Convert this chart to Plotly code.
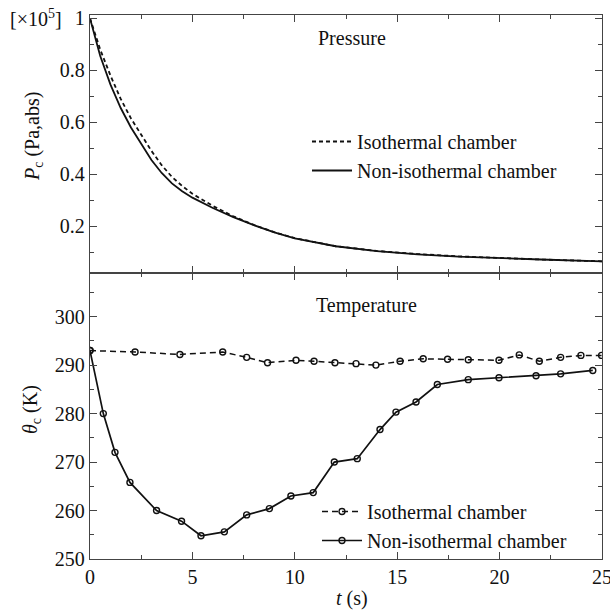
import plotly.graph_objects as go

# Pressure panel (x1e5 Pa, abs)
t_p = [0, 0.5, 1, 1.5, 2, 2.5, 3, 3.5, 4, 4.5, 5, 6, 7, 8, 9, 10, 12, 14, 16, 18, 20, 22, 25]
p_iso = [1.0, 0.88, 0.78, 0.69, 0.615, 0.55, 0.49, 0.435, 0.39, 0.355, 0.325, 0.278, 0.238,
         0.205, 0.177, 0.154, 0.123, 0.105, 0.093, 0.084, 0.077, 0.072, 0.065]
p_noniso = [1.0, 0.855, 0.745, 0.655, 0.58, 0.515, 0.455, 0.405, 0.365, 0.335, 0.31, 0.27,
            0.235, 0.204, 0.176, 0.153, 0.123, 0.104, 0.092, 0.083, 0.077, 0.072, 0.065]

# Temperature panel (K)
t_iso = [0, 2.2, 4.39, 6.48, 7.65, 8.67, 10.06, 10.94, 11.96, 12.99, 13.96, 15.14, 16.27,
         17.46, 18.47, 19.97, 20.96, 21.94, 22.98, 23.97, 24.98]
temp_iso = [293, 292.7, 292.2, 292.7, 291.6, 290.5, 291, 290.8, 290.5, 290.3, 290, 290.8,
            291.3, 291.2, 291.1, 291, 292.1, 290.8, 291.6, 292, 292]
t_non = [0, 0.65, 1.22, 1.95, 3.25, 4.47, 5.42, 6.56, 7.65, 8.76, 9.81, 10.9, 11.93, 13.05,
         14.16, 14.94, 15.92, 16.96, 18.47, 19.97, 21.78, 22.98, 24.55]
temp_non = [293, 280, 272, 265.8, 260, 257.8, 254.8, 255.6, 259.1, 260.4, 263, 263.7, 270,
            270.7, 276.7, 280.3, 282.4, 286, 287, 287.4, 287.8, 288.2, 288.9]

FONT = "Liberation Serif, Times New Roman, serif"
INK = "#111111"
AX = "#444444"

fig = go.Figure()

fig.add_trace(go.Scatter(x=t_p, y=p_iso, mode="lines", name="Isothermal chamber",
                         line=dict(color=INK, width=1.8, dash="4px,3px"),
                         xaxis="x2", yaxis="y2", legend="legend"))
fig.add_trace(go.Scatter(x=t_p, y=p_noniso, mode="lines", name="Non-isothermal chamber",
                         line=dict(color=INK, width=1.8),
                         xaxis="x2", yaxis="y2", legend="legend"))

marker = dict(symbol="circle-open", size=6, color=INK, line=dict(width=1.4, color=INK))
fig.add_trace(go.Scatter(x=t_iso, y=temp_iso, mode="lines+markers", name="Isothermal chamber",
                         line=dict(color=INK, width=1.5, dash="6px,4px"), marker=marker,
                         xaxis="x", yaxis="y", legend="legend2"))
fig.add_trace(go.Scatter(x=t_non, y=temp_non, mode="lines+markers", name="Non-isothermal chamber",
                         line=dict(color=INK, width=1.7), marker=marker,
                         xaxis="x", yaxis="y", legend="legend2"))

split = 286 / 544

common_axis = dict(showline=True, linecolor=AX, linewidth=1.3, mirror="ticks",
                   ticks="inside", ticklen=7, tickwidth=1.2, tickcolor=AX,
                   showgrid=False, zeroline=False, ticklabeloverflow="allow",
                   automargin=False,
                   tickfont=dict(family=FONT, size=20, color=INK))

fig.update_layout(
    width=610, height=612,
    margin=dict(l=90, r=8, t=15, b=53),
    plot_bgcolor="white", paper_bgcolor="white",
    font=dict(family=FONT, size=20, color=INK),
    xaxis=dict(common_axis, domain=[0, 1], range=[0, 25], dtick=5, tick0=0,
               minor=dict(dtick=2.5, tick0=0, ticks="inside", ticklen=4, tickcolor=AX),
               anchor="y"),
    yaxis=dict(common_axis, domain=[0, split], range=[250, 309], dtick=10, tick0=250,
               minor=dict(dtick=5, tick0=250, ticks="inside", ticklen=4, tickcolor=AX),
               anchor="x"),
    xaxis2=dict(common_axis, domain=[0, 1], range=[0, 25], dtick=5, tick0=0,
                showticklabels=False, matches="x",
                minor=dict(dtick=2.5, tick0=0, ticks="inside", ticklen=4, tickcolor=AX),
                anchor="y2"),
    yaxis2=dict(common_axis, domain=[split, 1], range=[0.02, 1.013],
                tickvals=[0.2, 0.4, 0.6, 0.8, 1.0], ticktext=["0.2", "0.4", "0.6", "0.8", "1"],
                minor=dict(dtick=0.1, tick0=0, ticks="inside", ticklen=4, tickcolor=AX),
                anchor="x2"),
    legend=dict(x=(307 - 90) / 512, y=(559 - 122) / 544, xanchor="left", yanchor="top",
                bgcolor="rgba(0,0,0,0)", font=dict(family=FONT, size=20, color=INK),
                tracegroupgap=0, itemwidth=40),
    legend2=dict(x=(317 - 90) / 512, y=(559 - 492) / 544, xanchor="left", yanchor="top",
                 bgcolor="rgba(0,0,0,0)", font=dict(family=FONT, size=20, color=INK),
                 tracegroupgap=0, itemwidth=40),
    showlegend=True,
)

ann = dict(xref="paper", yref="paper", showarrow=False, font=dict(family=FONT, size=20, color=INK))
fig.add_annotation(ann, text="Pressure", x=(316 - 90) / 512, y=(559 - 38) / 544,
                   xanchor="left", yanchor="middle")
fig.add_annotation(ann, text="Temperature", x=(314 - 90) / 512, y=(559 - 305) / 544,
                   xanchor="left", yanchor="middle")
fig.add_annotation(ann, text="<i>P</i><sub>c</sub> (Pa,abs)", textangle=-90,
                   x=(33 - 90) / 512, y=(559 - 137) / 544, xanchor="center", yanchor="middle")
fig.add_annotation(ann, text="<i>θ</i><sub>c</sub> (K)", textangle=-90,
                   x=(31 - 90) / 512, y=(559 - 410) / 544, xanchor="center", yanchor="middle")
fig.add_annotation(ann, text="<i>t</i> (s)", x=(352 - 90) / 512, y=(559 - 598) / 544,
                   xanchor="center", yanchor="middle")
fig.add_annotation(ann, text="[×10<sup>5</sup>]", x=(8 - 90) / 512, y=(559 - 18) / 544,
                   xanchor="left", yanchor="middle")

# drop the default 8px body margin so the figure fills the window exactly
fig.write_html("out.html", config={"displayModeBar": False},
               post_script="document.body.style.margin = '0';")
